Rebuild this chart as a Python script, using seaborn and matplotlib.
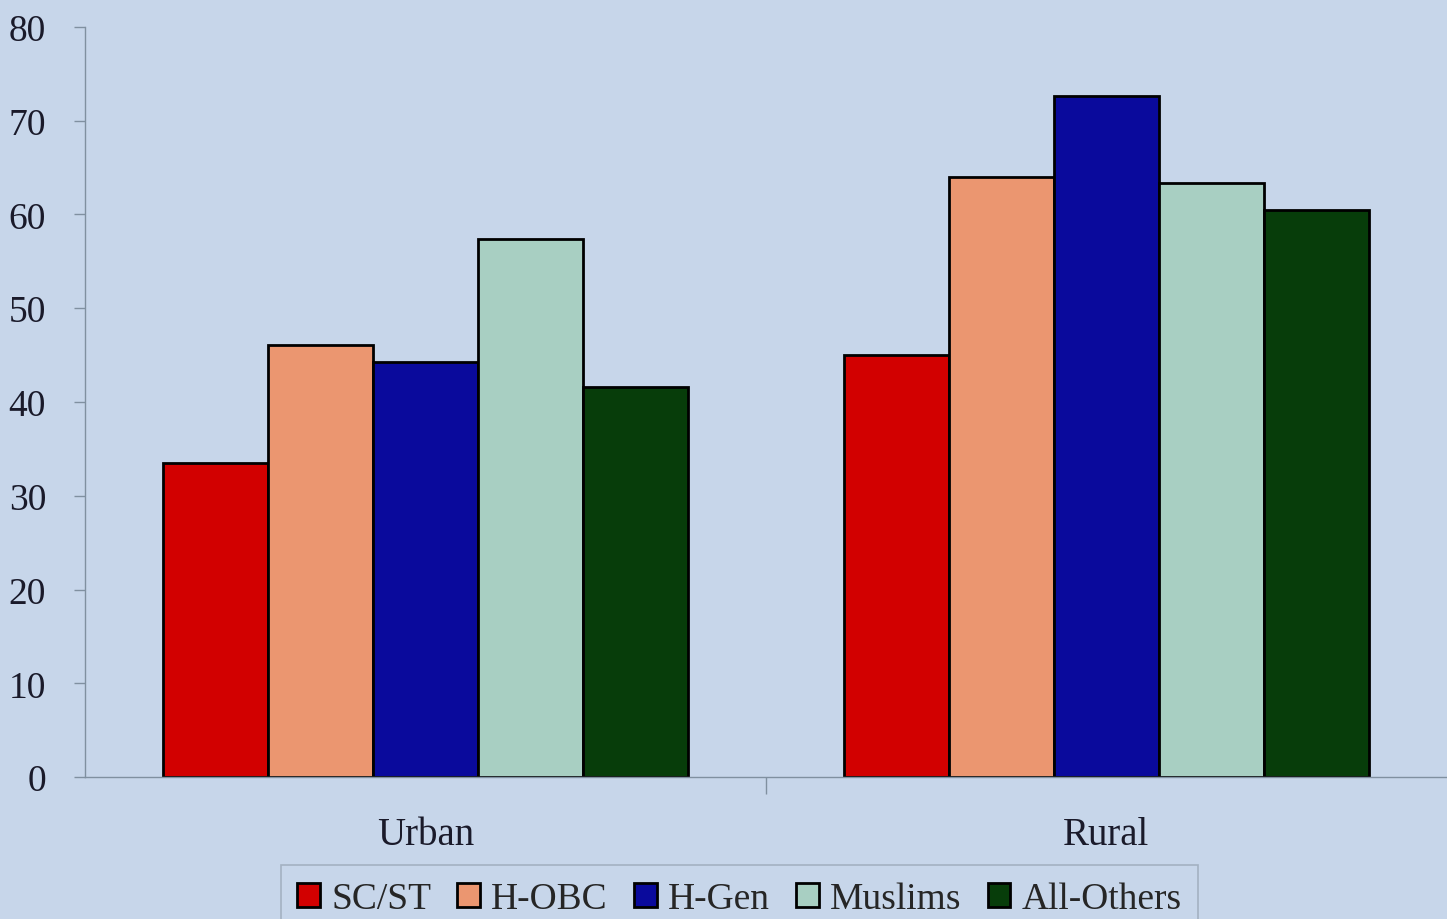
import pandas as pd
import seaborn as sns
import matplotlib.pyplot as plt

# Data
areas = ['Urban', 'Rural']
groups = ['SC/ST', 'H-OBC', 'H-Gen', 'Muslims', 'All-Others']
urban_vals = [33.5, 46.1, 44.3, 57.4, 41.6]
rural_vals = [45.0, 64.0, 72.6, 63.4, 60.5]
group_colors = ['#d20000', '#eb9670', '#0a0a9c', '#a8cfc2', '#073d0a']
y_ticks = [0, 10, 20, 30, 40, 50, 60, 70, 80]

df = pd.DataFrame({
    'area': [a for a in areas for _ in groups],
    'group': groups * len(areas),
    'value': urban_vals + rural_vals,
})

bg = '#c7d6ea'
sns.set_theme(style='white')
plt.rcParams['font.family'] = ['Liberation Serif', 'DejaVu Serif']

fig = plt.figure(figsize=(14.47, 9.20), dpi=100, facecolor=bg)
ax = fig.add_axes([0.0587, 0.1543, 0.9413, 0.8153])
ax.set_facecolor(bg)

sns.barplot(data=df, x='area', y='value', hue='group', hue_order=groups,
            palette=group_colors, width=0.77, edgecolor='black', linewidth=2,
            saturation=1, ax=ax)

ax.set_ylim(0, 80)
ax.set_xlim(-0.5, 1.5)
ax.set_yticks(y_ticks)
ax.set_xlabel('')
ax.set_ylabel('')
ax.set_xticks([0, 1])
ax.set_xticklabels(areas, fontsize=28)
ax.tick_params(axis='x', length=0, pad=28, colors='#1a1a2a')
ax.tick_params(axis='y', length=8, width=1, color='#8090a0', pad=20,
               labelsize=27, labelcolor='#1a1a2a', left=True)
ax.set_xticks([0.5], minor=True)
ax.tick_params(axis='x', which='minor', length=12, width=1, color='#8090a0',
               bottom=True)

for side in ['top', 'right']:
    ax.spines[side].set_visible(False)
for side in ['left', 'bottom']:
    ax.spines[side].set_color('#8090a0')
    ax.spines[side].set_linewidth(1)

ax.get_legend().remove()
handles, labels = ax.get_legend_handles_labels()
leg = fig.legend(handles, labels, loc='upper center', bbox_to_anchor=(0.511, 0.059),
                 ncol=5, fontsize=27, frameon=True, fancybox=False,
                 handlelength=0.6, handleheight=0.6, handletextpad=0.3,
                 columnspacing=0.7, borderpad=0.45, borderaxespad=0,
                 facecolor=bg, edgecolor='#9aa8b8')
leg.get_frame().set_linewidth(1.2)

fig.savefig('out.png', dpi=100, facecolor=bg)
